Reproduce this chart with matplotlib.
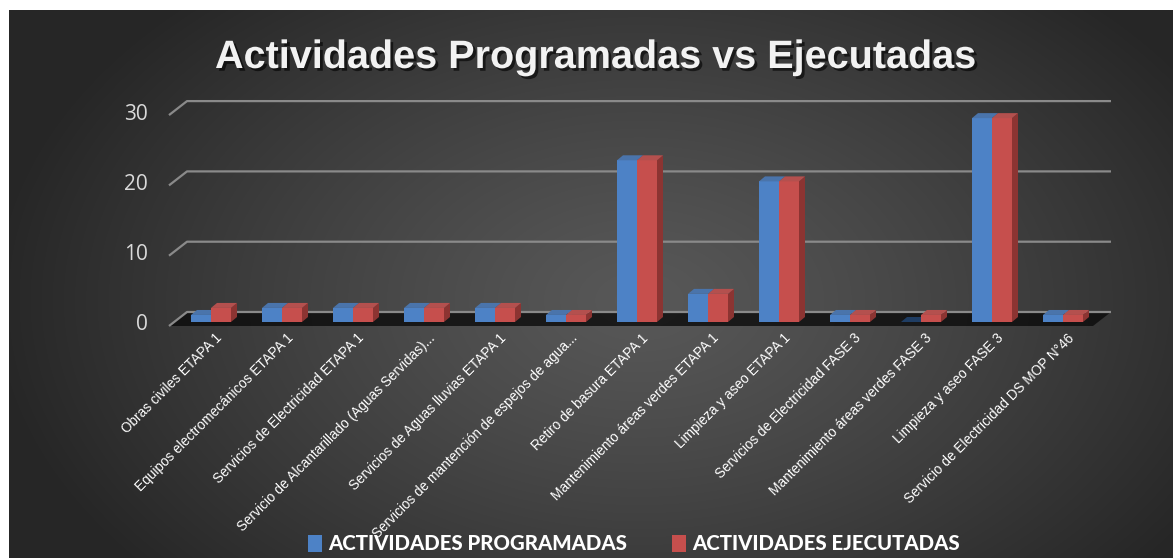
import numpy as np
import matplotlib

matplotlib.use("Agg")
import matplotlib.pyplot as plt  # noqa: E402
import matplotlib.patheffects as pe  # noqa: E402
from matplotlib.patches import Polygon, Patch  # noqa: E402

categories = [
    "Obras civiles ETAPA 1",
    "Equipos electromecánicos ETAPA 1",
    "Servicios de Electricidad ETAPA 1",
    "Servicio de Alcantarillado (Aguas Servidas)...",
    "Servicios de Aguas lluvias ETAPA 1",
    "Servicios de mantención de espejos de agua...",
    "Retiro de basura ETAPA 1",
    "Mantenimiento áreas verdes ETAPA 1",
    "Limpieza y aseo ETAPA 1",
    "Servicios de Electricidad FASE 3",
    "Mantenimiento áreas verdes FASE 3",
    "Limpieza y aseo FASE 3",
    "Servicio de Electricidad DS MOP N°46",
]
programadas = [1, 2, 2, 2, 2, 1, 23, 4, 20, 1, 0, 29, 1]
ejecutadas = [2, 2, 2, 2, 2, 1, 23, 4, 20, 1, 1, 29, 1]
y_ticks = [0, 10, 20, 30]
series_names = ["ACTIVIDADES PROGRAMADAS", "ACTIVIDADES EJECUTADAS"]

# pixel geometry of the fake 3-D box (one category = 71 px, one unit = 7.03 px)
W, H = 1173, 558
PX_CAT, PX_VAL = 71.0, 7.03
X0, Y0 = 211, 322          # pixel of category 0 / value 0 on the bar plane

def dx(px):
    return px / PX_CAT

def dy(px):
    return px / PX_VAL

fig = plt.figure(figsize=(W / 100, H / 100), dpi=100)
fig.patch.set_facecolor("white")

# dark radial background
bg = fig.add_axes([9 / W, 0, 1 - 9 / W, 548 / H])
bg.axis("off")
yy, xx = np.mgrid[0:548, 0:1164]
r = np.sqrt(((xx - 630) / 650.0) ** 2 + ((yy - 290) / 420.0) ** 2)
r = np.clip(r, 0, 1)
shade = 0.345 - (0.345 - 0.15) * r ** 1.2
bg.imshow(np.dstack([shade] * 3), aspect="auto", interpolation="bilinear")

ax = fig.add_axes([0, 0, 1, 1])
ax.set_facecolor("none")
ax.axis("off")
ax.set_xlim(-X0 / PX_CAT, (W - X0) / PX_CAT)
ax.set_ylim((Y0 - H) / PX_VAL, Y0 / PX_VAL)

front_y = -dy(4)           # front edge of the floor, relative to bar plane
back_y = dy(10)            # back wall
depth_x = dx(18)
x_left = dx(169 - X0)
x_right = dx(1111 - X0)

# floor
ax.add_patch(Polygon([(x_left, front_y), (x_left + depth_x, back_y),
                      (x_right, back_y), (x_right - depth_x, front_y)],
                     closed=True, facecolor="#0b0b0b", edgecolor="none",
                     alpha=0.8, zorder=1))

grid_col = "#8a8a8a"
for v in y_ticks:
    ax.plot([x_left, x_left + depth_x, x_right], [v + front_y, v + back_y, v + back_y],
            color=grid_col, lw=1.6, zorder=1.5, solid_capstyle="butt")
    ax.text(dx(148 - X0), v + front_y + dy(1), str(v), ha="right", va="center",
            fontsize=15, color="#d9d9d9", family="Open Sans")

# bars: front via ax.bar, side and top as polygons
bw = dx(20)
bdx, bdy = dx(6), dy(5)
x = np.arange(len(categories))
styles = [
    dict(front="#4d82c6", side="#33608f", top="#4a74ab"),
    dict(front="#c64f4d", side="#8c3432", top="#b4504e"),
]
for j, vals in enumerate([programadas, ejecutadas]):
    st = styles[j]
    lefts = x - bw + j * bw
    ax.bar(lefts, vals, width=bw, align="edge", color=st["front"], zorder=3 + j,
           linewidth=0)
    for left, h in zip(lefts, vals):
        ax.add_patch(Polygon([(left + bw, 0), (left + bw + bdx, bdy),
                              (left + bw + bdx, h + bdy), (left + bw, h)],
                             facecolor=st["side"], edgecolor="none", zorder=3 + j))
        top_col = st["top"] if h > 0 else "#1f3d63"
        ax.add_patch(Polygon([(left, h), (left + bdx, h + bdy),
                              (left + bw + bdx, h + bdy), (left + bw, h)],
                             facecolor=top_col, edgecolor="none", zorder=3 + j))

for i, cat in enumerate(categories):
    ax.text(i + dx(4), -dy(9), cat, rotation=45, rotation_mode="anchor",
            ha="right", va="top", fontsize=9.8, color="white",
            family="Liberation Sans")

fig.text(596 / W, 1 - 68 / H, "Actividades Programadas vs Ejecutadas",
         ha="center", va="baseline", fontsize=28.5, fontweight="bold",
         color="#f2f2f2", family="Liberation Sans",
         path_effects=[pe.SimplePatchShadow(offset=(2, -2), shadow_rgbFace="black",
                                            alpha=0.6), pe.Normal()])

handles = [Patch(facecolor=styles[0]["front"]), Patch(facecolor=styles[1]["front"])]
leg = fig.legend(handles, series_names, loc="center", ncol=2,
                 bbox_to_anchor=(634 / W, 1 - 544 / H), frameon=False,
                 handlelength=0.7, handleheight=0.9, handletextpad=0.3,
                 columnspacing=2.2,
                 prop={"family": "Lato", "weight": 900, "size": 14.7})
for t in leg.get_texts():
    t.set_color("white")

fig.savefig("out.png", dpi=100, facecolor=fig.get_facecolor())
